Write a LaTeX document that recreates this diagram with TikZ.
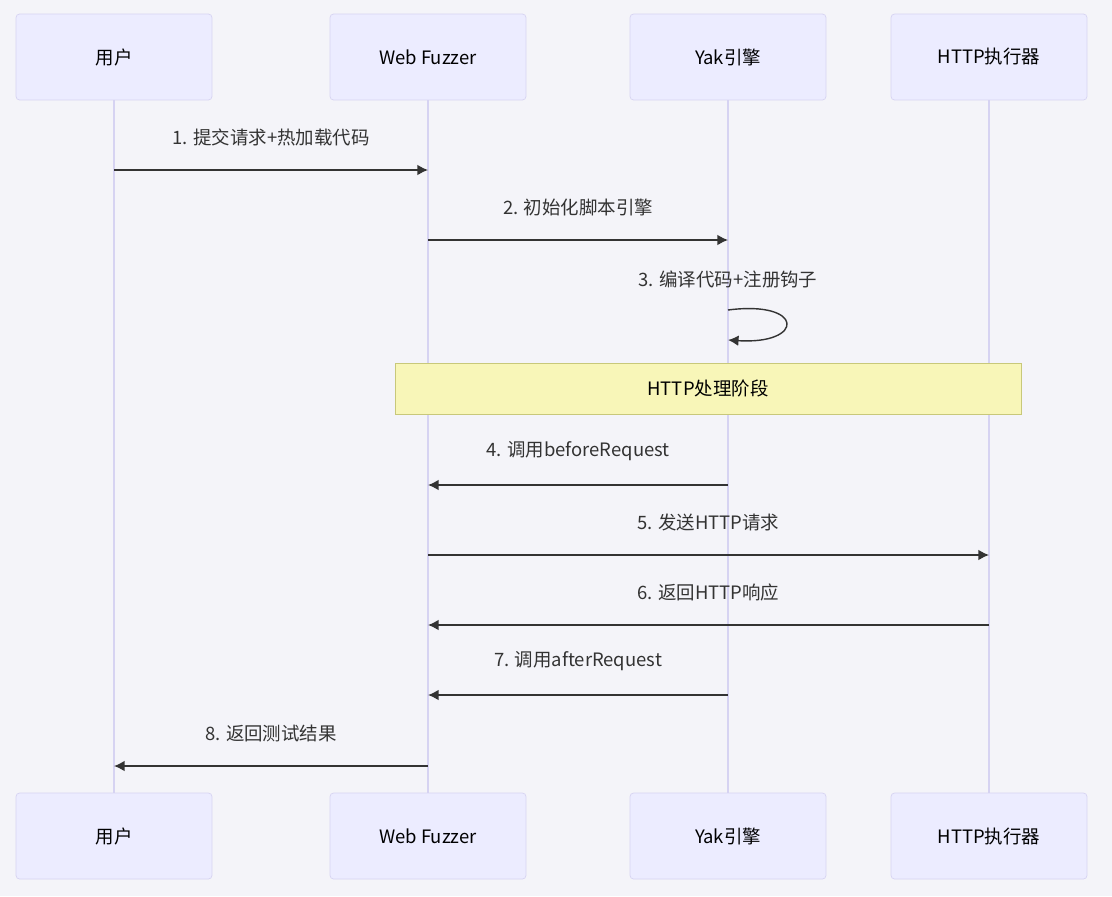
\documentclass[tikz,border=0pt]{standalone}
\usepackage{fontspec}
\setmainfont{Noto Sans CJK SC}
\usetikzlibrary{arrows.meta}
\definecolor{bgcol}{HTML}{F4F4F9}
\definecolor{actfill}{HTML}{ECECFF}
\definecolor{actline}{HTML}{D6D3F2}
\definecolor{notefill}{HTML}{F8F6B8}
\definecolor{noteline}{HTML}{C8C87A}
\definecolor{msgcol}{HTML}{333333}
\tikzset{
	actor/.style = {draw=actline, fill=actfill, rounded corners=2pt, minimum width=3.92cm, minimum height=1.72cm, font=\fontsize{10.5}{12}\selectfont, text=black},
	life/.style = {draw=actline, line width=1.2pt},
	msg/.style = {draw=msgcol, line width=0.8pt, -{Latex[length=6pt,width=6pt]}},
	lbl/.style = {font=\fontsize{10.5}{12}\selectfont, text=msgcol}
}
\begin{document}
\begin{tikzpicture}[x=0.02cm, y=-0.02cm]
	\fill[bgcol] (0,0) rectangle (1112,896);
	% actors
	\node[actor] (u1) at (114,57) {用户};
	\node[actor] (w1) at (428,57) {Web Fuzzer};
	\node[actor] (y1) at (728,57) {Yak引擎};
	\node[actor] (h1) at (989,57) {HTTP执行器};
	\node[actor] (u2) at (114,836) {用户};
	\node[actor] (w2) at (428,836) {Web Fuzzer};
	\node[actor] (y2) at (728,836) {Yak引擎};
	\node[actor] (h2) at (989,836) {HTTP执行器};
	\draw[life] (u1) -- (u2);
	\draw[life] (w1) -- (w2);
	\draw[life] (y1) -- (y2);
	\draw[life] (h1) -- (h2);

	% note
	\node[draw=noteline, fill=notefill, minimum width=12.52cm, minimum height=1.02cm, font=\fontsize{10.5}{12}\selectfont] (phase) at (708,388.5) {HTTP处理阶段};

	% messages
	\coordinate (m1a) at (114,170); \coordinate (m1b) at (428,170);
	\draw[msg] (m1a) -- node[lbl, above=10pt] (t1) {1. 提交请求+热加载代码} (m1b);
	\coordinate (m2a) at (428,240); \coordinate (m2b) at (728,240);
	\draw[msg] (m2a) -- node[lbl, above=10pt] (t2) {2. 初始化脚本引擎} (m2b);
	\coordinate (m3a) at (728,310); \coordinate (m3b) at (728,340);
	\node[lbl] (t3) at (728,279) {3. 编译代码+注册钩子};
	\draw[msg] (m3a) .. controls (805,300) and (805,345) .. (m3b);
	\coordinate (m4a) at (728,485); \coordinate (m4b) at (428,485);
	\draw[msg] (m4a) -- node[lbl, above=10pt] (t4) {4. 调用beforeRequest} (m4b);
	\coordinate (m5a) at (428,555); \coordinate (m5b) at (989,555);
	\draw[msg] (m5a) -- node[lbl, above=10pt] (t5) {5. 发送HTTP请求} (m5b);
	\coordinate (m6a) at (989,625); \coordinate (m6b) at (428,625);
	\draw[msg] (m6a) -- node[lbl, above=10pt] (t6) {6. 返回HTTP响应} (m6b);
	\coordinate (m7a) at (728,695); \coordinate (m7b) at (428,695);
	\draw[msg] (m7a) -- node[lbl, above=10pt] (t7) {7. 调用afterRequest} (m7b);
	\coordinate (m8a) at (428,766); \coordinate (m8b) at (114,766);
	\draw[msg] (m8a) -- node[lbl, above=10pt] (t8) {8. 返回测试结果} (m8b);
\end{tikzpicture}
\end{document}
